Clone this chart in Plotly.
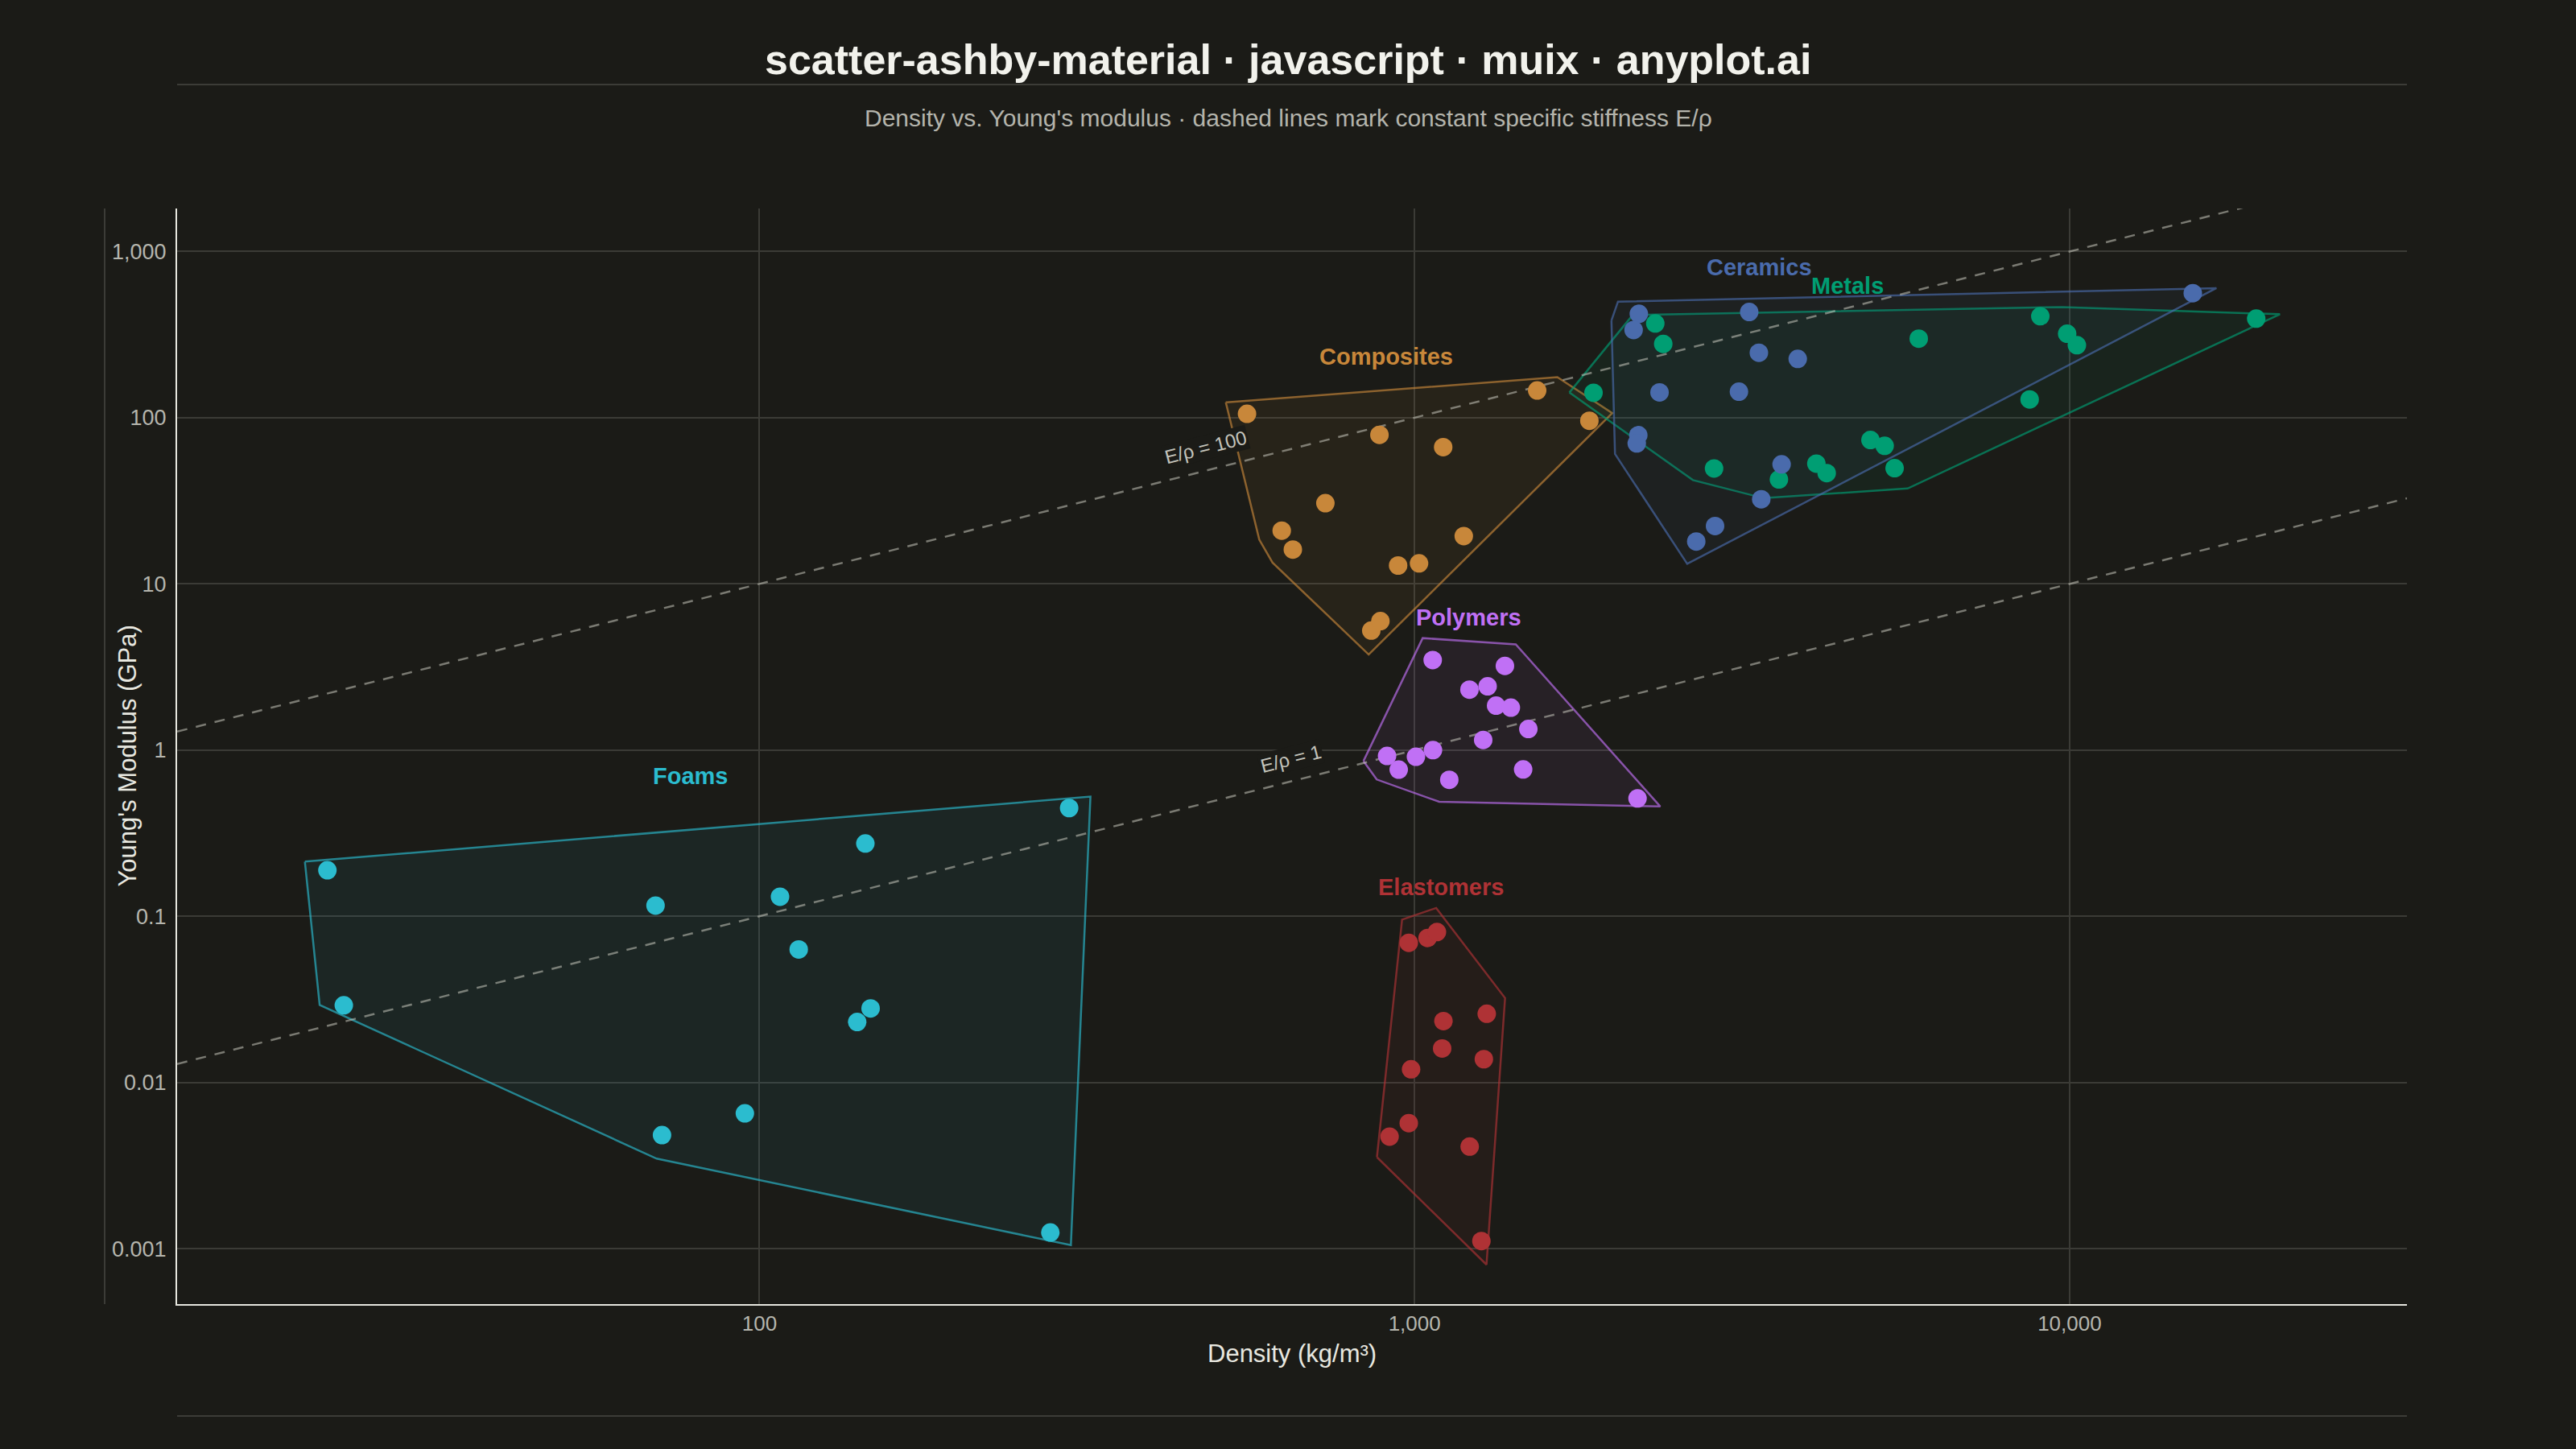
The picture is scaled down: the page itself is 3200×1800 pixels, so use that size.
import math
import plotly.graph_objects as go

# ---------------- data (density kg/m^3, Young's modulus GPa) ----------------
groups = ["Foams", "Elastomers", "Polymers", "Composites", "Metals", "Ceramics"]

foams_density = [21.9, 23.2, 69.4, 71.0, 95.0, 107.5, 114.8, 141.0, 145.1, 147.8, 278, 297]
foams_modulus = [0.189, 0.0291, 0.116, 0.00482, 0.00651, 0.131, 0.0631, 0.0231, 0.274, 0.0279, 0.00125, 0.448]

elastomers_density = [980, 1047, 1082, 1107, 1289, 1102, 1276, 988, 980, 916, 1214, 1265]
elastomers_modulus = [0.0692, 0.0740, 0.0803, 0.0234, 0.0259, 0.0160, 0.0138, 0.0120, 0.00569, 0.00472, 0.00411, 0.00111]

polymers_density = [1066, 1374, 1213, 1293, 1332, 1403, 1492, 1273, 1067, 1005, 908, 946, 1130, 1465, 2190]
polymers_modulus = [3.48, 3.21, 2.31, 2.42, 1.85, 1.80, 1.34, 1.15, 1.00, 0.912, 0.922, 0.763, 0.662, 0.765, 0.512]

composites_density = [555, 884, 1106, 1539, 1849, 731, 627, 652, 944, 1016, 1189, 859, 887]
composites_modulus = [105.6, 78.9, 66.5, 145.9, 95.8, 30.6, 20.9, 16.1, 12.9, 13.3, 19.4, 5.24, 5.97]

metals_density = [2331, 2397, 5885, 1876, 2866, 3600, 4106, 4258, 4966, 5220, 5406, 9022, 9915, 10260, 8690, 19270]
metals_modulus = [369, 278, 299, 141.3, 49.5, 42.5, 52.9, 46.4, 73.4, 67.7, 49.7, 408, 320, 273, 128.8, 394.5]

ceramics_density = [2200, 2160, 3243, 3355, 3846, 2366, 3128, 2196, 2184, 3634, 3383, 2876, 2692, 15420]
ceramics_modulus = [422, 337, 433, 246, 226, 142, 143.5, 78.5, 70, 52.4, 32.3, 22.3, 18.0, 562]

stiffness_ratios = [100, 1]          # E/rho, GPa per Mg/m^3
ratio_label_density = [490, 660]     # where each guide-line label sits

x_tick_values = [100, 1000, 10000]
x_tick_text = ["100", "1,000", "10,000"]
y_tick_values = [0.001, 0.01, 0.1, 1, 10, 100, 1000]
y_tick_text = ["0.001", "0.01", "0.1", "1", "10", "100", "1,000"]

title_text = "scatter-ashby-material · javascript · muix · anyplot.ai"
subtitle_text = "Density vs. Young's modulus · dashed lines mark constant specific stiffness E/ρ"
x_title = "Density (kg/m³)"
y_title = "Young's Modulus (GPa)"

# ---------------- style ----------------
W, H = 3200, 1800
ML, MR, MT, MB = 220, 210, 259, 180
X_RANGE = [1.111, 4.515]
Y_RANGE = [-3.334, 3.259]
PLOT_W = W - ML - MR
PLOT_H = H - MT - MB
KX = PLOT_W / (X_RANGE[1] - X_RANGE[0])
KY = PLOT_H / (Y_RANGE[1] - Y_RANGE[0])
HULL_PAD = 30
LABEL_GAP = 25

BG = "#1b1b17"
GRID = "#3b3b36"
DECOR = "#3c3c37"
AXIS = "#e6e6de"
TICK = "#b6b6ae"
SANS = "Liberation Sans, Arial, sans-serif"

colors = {
    "Foams": (43, 188, 207),
    "Elastomers": (175, 50, 53),
    "Polymers": (192, 112, 245),
    "Composites": (200, 135, 58),
    "Metals": (0, 158, 115),
    "Ceramics": (74, 107, 172),
}

series = {
    "Foams": (foams_density, foams_modulus),
    "Elastomers": (elastomers_density, elastomers_modulus),
    "Polymers": (polymers_density, polymers_modulus),
    "Composites": (composites_density, composites_modulus),
    "Metals": (metals_density, metals_modulus),
    "Ceramics": (ceramics_density, ceramics_modulus),
}


def rgba(c, a):
    return f"rgba({c[0]},{c[1]},{c[2]},{a})"


def convex_hull(pts):
    pts = sorted(set(pts))
    if len(pts) <= 2:
        return pts

    def cross(o, a, b):
        return (a[0] - o[0]) * (b[1] - o[1]) - (a[1] - o[1]) * (b[0] - o[0])

    lower = []
    for p in pts:
        while len(lower) >= 2 and cross(lower[-2], lower[-1], p) <= 0:
            lower.pop()
        lower.append(p)
    upper = []
    for p in reversed(pts):
        while len(upper) >= 2 and cross(upper[-2], upper[-1], p) <= 0:
            upper.pop()
        upper.append(p)
    return lower[:-1] + upper[:-1]


def padded_hull(xs, ys):
    # work in screen-pixel units of the log-log axes
    pts = [(math.log10(x) * KX, math.log10(y) * KY) for x, y in zip(xs, ys)]
    hull = convex_hull(pts)
    cx = sum(p[0] for p in hull) / len(hull)
    cy = sum(p[1] for p in hull) / len(hull)
    out = []
    for (u, v) in hull:
        dx, dy = u - cx, v - cy
        n = math.hypot(dx, dy) or 1.0
        out.append((u + HULL_PAD * dx / n, v + HULL_PAD * dy / n))
    hx = [10 ** (u / KX) for u, _ in out]
    hy = [10 ** (v / KY) for _, v in out]
    lab_x = 10 ** (cx / KX)
    lab_y = 10 ** (max(v for _, v in out) / KY)
    return hx, hy, lab_x, lab_y


fig = go.Figure()
annotations = []

# hulls
label_pos = {}
for g in groups:
    xs, ys = series[g]
    hx, hy, lx, ly = padded_hull(xs, ys)
    label_pos[g] = (lx, ly)
    c = colors[g]
    fig.add_trace(go.Scatter(
        x=hx + [hx[0]], y=hy + [hy[0]], mode="lines", fill="toself",
        fillcolor=rgba(c, 0.07), line=dict(color=rgba(c, 0.65), width=2.5),
        hoverinfo="skip", showlegend=False))

# constant specific stiffness guide lines
x_lo, x_hi = 10 ** X_RANGE[0], 10 ** X_RANGE[1]
angle = -math.degrees(math.atan(KY / KX))
for r, lx in zip(stiffness_ratios, ratio_label_density):
    fig.add_trace(go.Scatter(
        x=[x_lo, x_hi], y=[r * x_lo / 1000, r * x_hi / 1000], mode="lines",
        line=dict(color="rgba(200,200,190,0.55)", width=2.5, dash="13px,11px"),
        hoverinfo="skip", showlegend=False))
    annotations.append(dict(
        x=math.log10(lx), y=math.log10(r * lx / 1000), xref="x", yref="y",
        text=f"E/ρ = {r}", showarrow=False, textangle=angle,
        xshift=-7, yshift=27, font=dict(family=SANS, size=24, color="#c4c4bc"),
        bgcolor=BG, borderpad=1))

# points
for g in groups:
    xs, ys = series[g]
    fig.add_trace(go.Scatter(
        x=xs, y=ys, mode="markers", name=g,
        marker=dict(size=23, color=rgba(colors[g], 1), line=dict(width=0)),
        showlegend=False))

# group labels
for g in groups:
    lx, ly = label_pos[g]
    annotations.append(dict(
        x=math.log10(lx), y=math.log10(ly), xref="x", yref="y", text=f"<b>{g}</b>",
        showarrow=False, yshift=LABEL_GAP + 1, yanchor="middle", xanchor="center",
        font=dict(family=SANS, size=29, color=rgba(colors[g], 1))))


def px_x(X):
    return (X - ML) / PLOT_W


def px_y(Y):
    return (H - MB - Y) / PLOT_H


annotations += [
    dict(x=px_x(1600), y=px_y(74), xref="paper", yref="paper", text=f"<b>{title_text}</b>",
         showarrow=False, xanchor="center", yanchor="middle",
         font=dict(family=SANS, size=52, color="#f2f2ec")),
    dict(x=px_x(1600), y=px_y(147), xref="paper", yref="paper", text=subtitle_text,
         showarrow=False, xanchor="center", yanchor="middle",
         font=dict(family=SANS, size=30, color="#b4b4ac")),
    dict(x=px_x(158), y=0.5, xref="paper", yref="paper", text=y_title, textangle=-90,
         showarrow=False, xanchor="center", yanchor="middle",
         font=dict(family=SANS, size=31, color="#e8e8e0")),
    dict(x=0.5, y=px_y(1682), xref="paper", yref="paper", text=x_title,
         showarrow=False, xanchor="center", yanchor="middle",
         font=dict(family=SANS, size=31, color="#e8e8e0")),
]

shapes = [
    dict(type="line", xref="paper", yref="paper", x0=0, x1=1, y0=px_y(105), y1=px_y(105),
         line=dict(color=DECOR, width=2)),
    dict(type="line", xref="paper", yref="paper", x0=0, x1=1, y0=px_y(1759), y1=px_y(1759),
         line=dict(color=DECOR, width=2)),
    dict(type="line", xref="paper", yref="paper", x0=px_x(130), x1=px_x(130), y0=0, y1=1,
         line=dict(color=DECOR, width=2)),
]

fig.update_layout(
    width=W, height=H, margin=dict(l=ML, r=MR, t=MT, b=MB, autoexpand=False),
    paper_bgcolor=BG, plot_bgcolor=BG, showlegend=False,
    annotations=annotations, shapes=shapes,
    xaxis=dict(type="log", range=X_RANGE, tickvals=x_tick_values, ticktext=x_tick_text,
               showgrid=True, gridcolor=GRID, gridwidth=1.5, showline=True, linecolor=AXIS,
               linewidth=2, ticks="", zeroline=False,
               tickfont=dict(family=SANS, size=26, color=TICK)),
    yaxis=dict(type="log", range=Y_RANGE, tickvals=y_tick_values, ticktext=y_tick_text,
               showgrid=True, gridcolor=GRID, gridwidth=1.5, showline=True, linecolor=AXIS,
               linewidth=2, ticks="", zeroline=False, ticklabelstandoff=6,
               tickfont=dict(family=SANS, size=27, color=TICK)),
)

fig.write_html("out.html", config={"displayModeBar": False},
               post_script="document.body.style.margin='0';")
